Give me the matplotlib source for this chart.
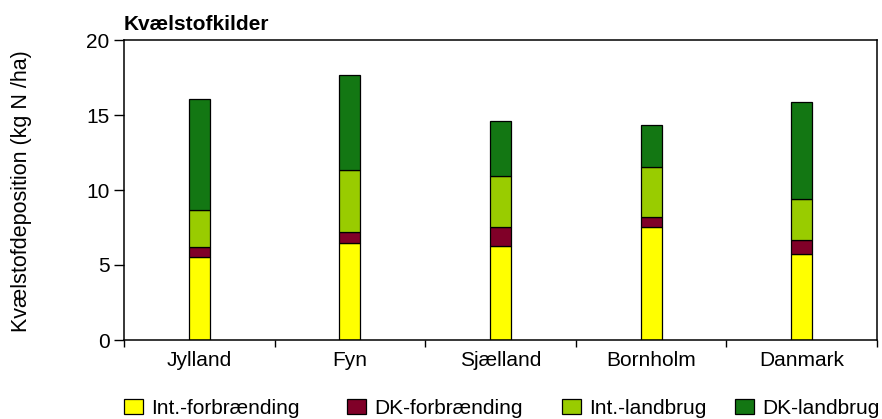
import matplotlib
matplotlib.use("Agg")
import matplotlib.pyplot as plt
import numpy as np

plt.rcParams['font.family'] = ['Liberation Sans', 'DejaVu Sans']

categories = ["Jylland", "Fyn", "Sjælland", "Bornholm", "Danmark"]
series_names = ["Int.-forbrænding", "DK-forbrænding", "Int.-landbrug", "DK-landbrug"]
int_forbraending = [5.53, 6.44, 6.29, 7.51, 5.76]
dk_forbraending = [0.69, 0.78, 1.22, 0.69, 0.88]
int_landbrug = [2.43, 4.13, 3.42, 3.36, 2.76]
dk_landbrug = [7.42, 6.34, 3.65, 2.77, 6.47]
colors = ["#FFFF00", "#800028", "#99CC00", "#137713"]
yticks = [0, 5, 10, 15, 20]

W, H = 882, 419
fig = plt.figure(figsize=(W / 100, H / 100), dpi=100)
ax = fig.add_axes([124 / W, 1 - 340 / H, (877 - 124) / W, 300 / H])

x = np.arange(len(categories))
bottom = np.zeros(len(categories))
containers = []
for vals, col, name in zip([int_forbraending, dk_forbraending, int_landbrug, dk_landbrug],
                           colors, series_names):
    c = ax.bar(x, vals, width=0.14, bottom=bottom, color=col, edgecolor="black",
               linewidth=0.9, label=name)
    containers.append(c)
    bottom = bottom + np.array(vals)

ax.set_xlim(-0.5, len(categories) - 0.5)
ax.set_ylim(0, 20)
ax.set_yticks(yticks)
ax.set_yticklabels([str(v) for v in yticks])
ax.set_xticks(np.arange(len(categories) + 1) - 0.5)
ax.set_xticklabels([])
ax.set_xticks(x, minor=True)
ax.set_xticklabels(categories, minor=True)
ax.tick_params(axis='x', which='major', direction='out', length=5, width=1)
ax.tick_params(axis='x', which='minor', length=0, pad=8, labelsize=15)
ax.tick_params(axis='y', direction='out', length=7.5, width=1, pad=3, labelsize=15)
for s in ax.spines.values():
    s.set_linewidth(1.1)

ax.set_title("Kvælstofkilder", loc='left', fontweight='bold', fontsize=15, pad=7)
fig.text(22 / W, 1 - 191 / H, "Kvælstofdeposition (kg N /ha)", rotation=90,
         ha='center', va='center', fontsize=15.5)

patch_x = [124, 347, 562, 735]
for c, name, px in zip(containers, series_names, patch_x):
    fig.legend(handles=[c], labels=[name], loc='center left',
               bbox_to_anchor=(px / W, 1 - 408 / H), frameon=False,
               borderpad=0, borderaxespad=0, handlelength=0.9, handleheight=0.7,
               handletextpad=0.4, fontsize=15)

fig.savefig("out.png", dpi=100)
